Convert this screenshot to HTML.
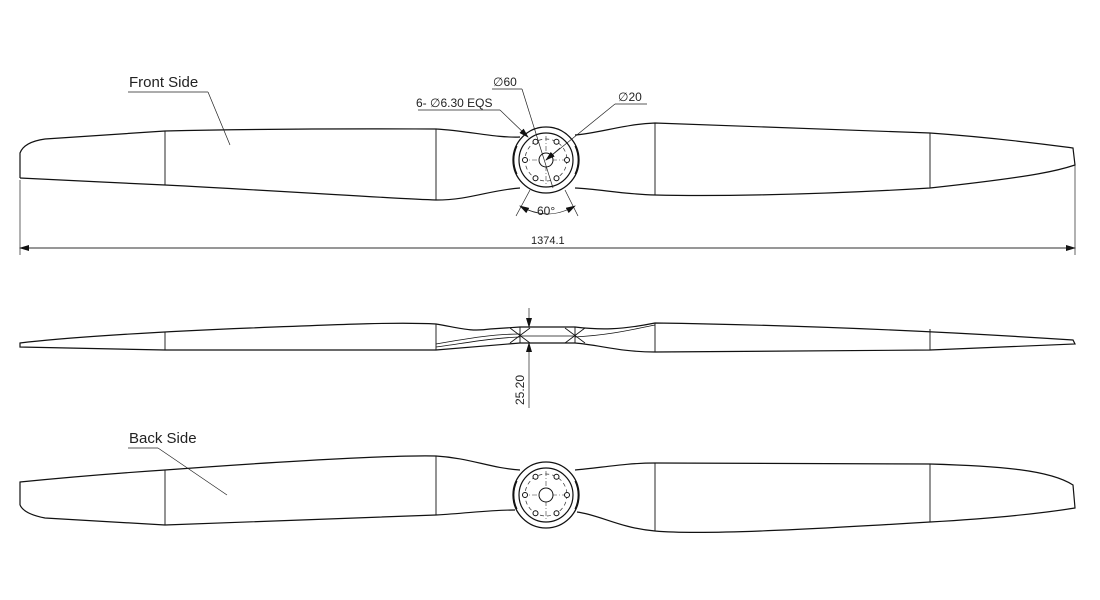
<!DOCTYPE html>
<html><head><meta charset="utf-8"><style>
html,body{margin:0;padding:0;background:#fff;}
svg{display:block;}
text{font-family:"Liberation Sans",sans-serif;fill:#222;}
</style></head><body>
<svg width="1100" height="600" viewBox="0 0 1100 600" xmlns="http://www.w3.org/2000/svg">
<defs>
<marker id="ar" markerWidth="10" markerHeight="6" refX="9" refY="3" orient="auto" markerUnits="userSpaceOnUse"><path d="M0,0 L10,3 L0,6 z" fill="#111"/></marker>
<g id="hub">
  <circle r="33" fill="#fff" stroke="#111" stroke-width="1.3"/>
  <path d="M-29,-14 A33,33 0 0 0 -29,14" fill="none" stroke="#111"/>
  <path d="M29,-14 A33,33 0 0 1 29,14" fill="none" stroke="#111"/>
  <circle r="27" fill="none" stroke="#111" stroke-width="1.2"/>
  <circle r="21" fill="none" stroke="#333" stroke-width="0.7" stroke-dasharray="4,3"/>
  <line x1="-24" y1="0" x2="24" y2="0" stroke="#333" stroke-width="0.6" stroke-dasharray="5,2,1,2"/>
  <line x1="0" y1="-24" x2="0" y2="24" stroke="#333" stroke-width="0.6" stroke-dasharray="5,2,1,2"/>
  <circle r="7" fill="#fff" stroke="#111"/>
  <circle cx="21" cy="0" r="2.5" fill="#fff" stroke="#111"/>
  <circle cx="-21" cy="0" r="2.5" fill="#fff" stroke="#111"/>
  <circle cx="10.5" cy="-18.2" r="2.5" fill="#fff" stroke="#111"/>
  <circle cx="-10.5" cy="-18.2" r="2.5" fill="#fff" stroke="#111"/>
  <circle cx="10.5" cy="18.2" r="2.5" fill="#fff" stroke="#111"/>
  <circle cx="-10.5" cy="18.2" r="2.5" fill="#fff" stroke="#111"/>
</g>
</defs>
<g fill="none" stroke="#111" stroke-width="1.2">
<!-- FRONT -->
<path d="M20,178 L20,153 Q24,142 45,139 L165,131 C300,128 400,129 436,129 C470,131 495,138 520,137"/>
<path d="M20,178 C60,180 120,183 165,185 C300,192 400,199 436,200 C470,200 490,190 520,188"/>
<path d="M575,135 C600,133 625,124 655,123 L930,133 C1000,138 1050,145 1073,148 L1075,165 C1060,170 1040,176 930,188 C800,196 700,196 655,195 C620,194 600,189 575,188"/>
<line x1="165" y1="131" x2="165" y2="185" stroke-width="0.9"/>
<line x1="436" y1="129" x2="436" y2="200" stroke-width="0.9"/>
<line x1="655" y1="123" x2="655" y2="195" stroke-width="0.9"/>
<line x1="930" y1="133" x2="930" y2="188" stroke-width="0.9"/>
</g>
<use href="#hub" x="546" y="160"/>
<!-- front dims -->
<g stroke="#222" stroke-width="0.7" fill="none">
<line x1="20" y1="180" x2="20" y2="255"/>
<line x1="1075" y1="165" x2="1075" y2="255"/>
<line x1="20" y1="248" x2="1075" y2="248" marker-start="url(#ar)" marker-end="url(#ar)" style="marker-start:none"/>
<path d="M1075,248" />
<line x1="1075" y1="248" x2="20" y2="248" marker-end="url(#ar)"/>
<line x1="128" y1="92" x2="208" y2="92"/>
<line x1="208" y1="92" x2="230" y2="145"/>
<line x1="418" y1="110" x2="500" y2="110"/>
<line x1="500" y1="110" x2="528" y2="137" marker-end="url(#ar)"/>
<line x1="492" y1="89" x2="522" y2="89"/>
<line x1="522" y1="89" x2="553" y2="188"/>
<line x1="615" y1="104" x2="647" y2="104"/>
<line x1="615" y1="104" x2="546" y2="160"/>
<line x1="560" y1="148" x2="546" y2="160" marker-end="url(#ar)"/>
<line x1="530" y1="190" x2="516" y2="216"/>
<line x1="565" y1="190" x2="578" y2="216"/>
<path d="M520,206 Q547,222 575,206" marker-end="url(#ar)"/>
<path d="M547,214 Q532,213 520,206" marker-end="url(#ar)"/>
</g>
<text x="129" y="87" font-size="15">Front Side</text>
<text x="416" y="107" font-size="12">6- ∅6.30 EQS</text>
<text x="493" y="86" font-size="12">∅60</text>
<text x="618" y="101" font-size="12">∅20</text>
<text x="537" y="215" font-size="12">60°</text>
<text x="531" y="244" font-size="11">1374.1</text>

<!-- SIDE -->
<g fill="none" stroke="#111" stroke-width="1.2">
<path d="M20,343 C60,338 150,332 250,328 C350,324 400,322 436,324 C460,328 470,332 490,329 L520,327 L575,327 C600,330 620,330 655,323 C800,325 950,332 1073,340 L1075,344 L930,350 L655,352 C620,352 600,345 575,343 L520,343 L436,350 L165,350 L20,347 Z"/>
<path d="M436,347 C460,344 490,338 520,337 M436,344 C470,338 495,334 520,334 M575,337 C610,335 630,330 655,325" stroke-width="0.8"/>
<line x1="520" y1="327" x2="520" y2="343" stroke-width="0.9"/>
<line x1="575" y1="327" x2="575" y2="343" stroke-width="0.9"/>
<path d="M510,328 L530,343 M510,343 L530,328 M565,328 L585,343 M565,343 L585,328" stroke-width="0.8"/>
<line x1="520" y1="336" x2="575" y2="336" stroke-width="0.8"/>
<line x1="165" y1="332" x2="165" y2="350" stroke-width="0.9"/>
<line x1="436" y1="324" x2="436" y2="350" stroke-width="0.9"/>
<line x1="655" y1="323" x2="655" y2="352" stroke-width="0.9"/>
<line x1="930" y1="329" x2="930" y2="350" stroke-width="0.9"/>
</g>
<g stroke="#222" stroke-width="0.7">
<line x1="529" y1="308" x2="529" y2="327" marker-end="url(#ar)"/>
<line x1="529" y1="408" x2="529" y2="343" marker-end="url(#ar)"/>
</g>
<text transform="translate(524,405) rotate(-90)" font-size="12">25.20</text>

<!-- BACK -->
<g fill="none" stroke="#111" stroke-width="1.2">
<path d="M20,505 L20,482 C60,478 120,473 165,470 C300,460 400,455 436,456 C470,458 490,468 520,470"/>
<path d="M20,505 Q24,514 45,518 L165,525 C300,520 400,516 436,515 C470,513 490,510 515,510"/>
<path d="M575,470 C600,468 625,463 655,463 L930,464 C1000,466 1050,470 1073,485 L1075,508 C1050,512 1000,518 930,522 C800,530 700,535 655,531 C620,528 600,515 577,512"/>
<line x1="165" y1="470" x2="165" y2="525" stroke-width="0.9"/>
<line x1="436" y1="456" x2="436" y2="515" stroke-width="0.9"/>
<line x1="655" y1="463" x2="655" y2="531" stroke-width="0.9"/>
<line x1="930" y1="464" x2="930" y2="522" stroke-width="0.9"/>
</g>
<use href="#hub" x="546" y="495"/>
<g stroke="#222" stroke-width="0.7">
<line x1="128" y1="448" x2="158" y2="448"/>
<line x1="158" y1="448" x2="227" y2="495"/>
</g>
<text x="129" y="443" font-size="15">Back Side</text>
</svg>
</body></html>
